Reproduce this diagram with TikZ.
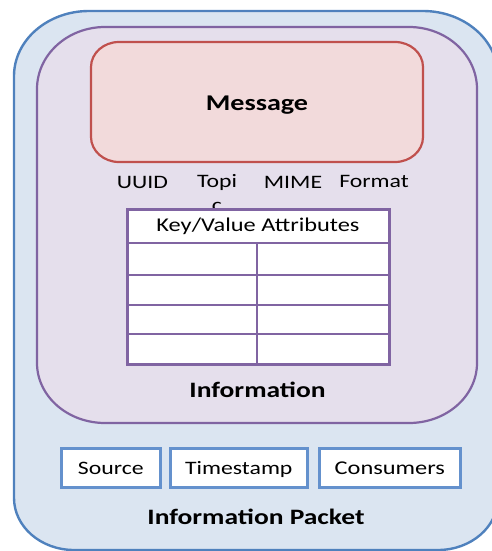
\documentclass[tikz,border=0pt]{standalone}
\usepackage{fontspec}
\setmainfont{Carlito}[FakeStretch=1.25]
\definecolor{outerfill}{RGB}{219,229,241}
\definecolor{outerline}{RGB}{79,129,189}
\definecolor{innerfill}{RGB}{229,223,236}
\definecolor{innerline}{RGB}{128,100,162}
\definecolor{msgfill}{RGB}{242,218,219}
\definecolor{msgline}{RGB}{192,80,77}
\definecolor{boxline}{RGB}{100,145,205}
\tikzset{
  erect/.style n args={8}{insert path={
    (#1+#5,#2) -- (#3-#5,#2) .. controls (#3-0.448*#5,#2) and (#3,#2+0.448*#6) .. (#3,#2+#6)
    -- (#3,#4-#8) .. controls (#3,#4-0.448*#8) and (#3-0.448*#7,#4) .. (#3-#7,#4)
    -- (#1+#7,#4) .. controls (#1+0.448*#7,#4) and (#1,#4-0.448*#8) .. (#1,#4-#8)
    -- (#1,#2+#6) .. controls (#1,#2+0.448*#6) and (#1+0.448*#5,#2) .. (#1+#5,#2) -- cycle}},
  lbl/.style={inner sep=0pt, anchor=base},
  title/.style={lbl, font=\fontsize{22}{26}\selectfont\bfseries},
  small/.style={lbl, font=\fontsize{19}{24}\selectfont},
  metabox/.style={draw=boxline, line width=2.6pt, fill=white, inner sep=0pt},
  tline/.style={draw=innerline, line width=2.2pt},
}
\begin{document}
\begin{tikzpicture}[x=1pt,y=-1pt]
\useasboundingbox (0,0) rectangle (491,551);
% outer packet
\draw[outerline, fill=outerfill, line width=2.4pt, erect={14}{11}{498}{550}{75}{65}{60}{52}];
% information
\draw[innerline, fill=innerfill, line width=2.2pt, erect={37}{27}{477}{423}{68}{62}{68}{60}];
% message
\draw[msgline, fill=msgfill, line width=2.2pt, erect={91}{42}{423}{162}{28}{25}{28}{25}];
\node[title, font=\fontsize{22.5}{26}\selectfont\bfseries] (msg) at (257,110) {Message};
% meta labels
\node[small] (uuid) at (142.5,188) {UUID};
\node[small, anchor=north, align=center, font=\fontsize{19}{24}\selectfont] (topic) at (217,174) {Topi\\c};
\node[small] (mime) at (293,188) {MIME};
\node[small] (fmt) at (374,187) {Format};
% table
\node[draw=innerline, line width=2.6pt, fill=white, minimum width=262pt, minimum height=155pt, inner sep=0pt, anchor=north west] (tbl) at (126,208) {};
\node[lbl, font=\fontsize{19.5}{24}\selectfont] (kv) at (258,231) {Key/Value Attributes};
\coordinate (r1l) at (126,243); \coordinate (r1r) at (388,243);
\coordinate (r2l) at (126,275); \coordinate (r2r) at (388,275);
\coordinate (r3l) at (126,305); \coordinate (r3r) at (388,305);
\coordinate (r4l) at (126,334); \coordinate (r4r) at (388,334);
\coordinate (vt) at (257,243); \coordinate (vb) at (257,363);
\draw[tline] (r1l) -- (r1r);
\draw[tline] (r2l) -- (r2r);
\draw[tline] (r3l) -- (r3r);
\draw[tline] (r4l) -- (r4r);
\draw[draw=innerline, line width=1.5pt] (vt) -- (vb);
\node[title] (info) at (257.5,397) {Information};
% bottom boxes
\node[metabox, minimum width=99pt, minimum height=39pt, anchor=north west] (srcbox) at (60,447) {};
\node[metabox, minimum width=137pt, minimum height=39pt, anchor=north west] (tsbox) at (169,447) {};
\node[metabox, minimum width=141pt, minimum height=39pt, anchor=north west] (conbox) at (318,447) {};
\node[small] (src) at (srcbox.center |- 0,474) {Source};
\node[small] (ts) at (tsbox.center |- 0,474) {Timestamp};
\node[small, font=\fontsize{19.5}{24}\selectfont] (con) at (conbox.center |- 0,474) {Consumers};
\node[title] (packet) at (256,524) {Information Packet};
\end{tikzpicture}
\end{document}
